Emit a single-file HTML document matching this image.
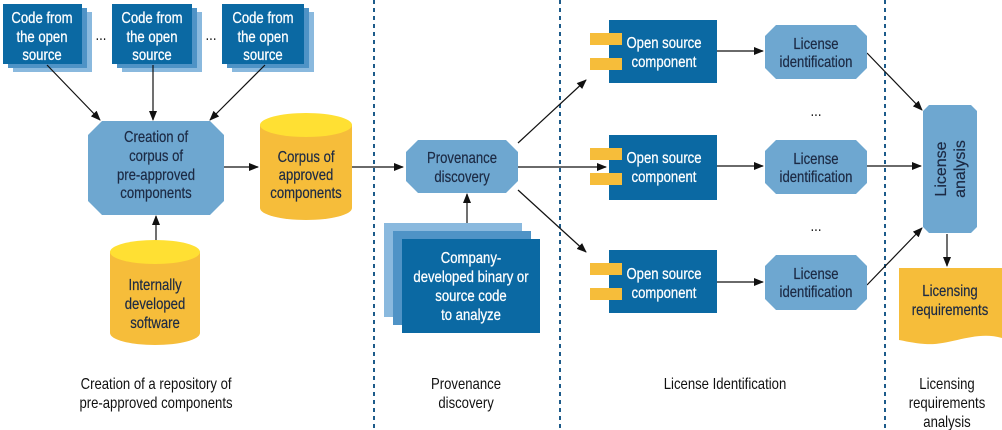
<!DOCTYPE html>
<html><head><meta charset="utf-8"><style>
body{margin:0;background:#fff;}
svg{display:block;font-family:"Liberation Sans",sans-serif;}
text{transform-box:fill-box;transform-origin:center;transform:scaleX(0.82);}
.w{fill:#fff;font-size:16px;stroke:#fff;stroke-width:0.25px;}
.d{fill:#1c2a44;font-size:16px;stroke:#1c2a44;stroke-width:0.2px;}
.b{fill:#111;font-size:16px;}
.c{text-anchor:middle;}
.r{transform:none;}
</style></head><body>
<svg width="1002" height="430" viewBox="0 0 1002 430">
<defs><marker id="a" markerWidth="10" markerHeight="8" refX="9" refY="4" orient="auto" markerUnits="userSpaceOnUse"><path d="M0,0L10,4L0,8z" fill="#111"/></marker></defs>
<g stroke="#1d5b8a" stroke-width="2" stroke-dasharray="4,4">
<line x1="374" y1="0" x2="374" y2="430"/><line x1="560" y1="0" x2="560" y2="430"/><line x1="885" y1="0" x2="885" y2="430"/></g>
<g>
<rect x="13" y="12" width="79" height="60" fill="#8ab9de"/><rect x="8" y="8" width="79" height="60" fill="#4f93c6"/><rect x="3" y="4" width="79" height="60" fill="#0b69a3"/>
<rect x="122" y="12" width="80" height="60" fill="#8ab9de"/><rect x="117" y="8" width="80" height="60" fill="#4f93c6"/><rect x="112" y="4" width="80" height="60" fill="#0b69a3"/>
<rect x="232" y="12" width="82" height="60" fill="#8ab9de"/><rect x="227" y="8" width="82" height="60" fill="#4f93c6"/><rect x="222" y="4" width="82" height="60" fill="#0b69a3"/>
</g>
<text x="42" y="23" class="w c">Code from</text><text x="42" y="42" class="w c">the open</text><text x="42" y="60" class="w c">source</text>
<text x="152" y="23" class="w c">Code from</text><text x="152" y="42" class="w c">the open</text><text x="152" y="60" class="w c">source</text>
<text x="263" y="23" class="w c">Code from</text><text x="263" y="42" class="w c">the open</text><text x="263" y="60" class="w c">source</text>
<text x="101" y="40" class="b c">...</text><text x="211" y="40" class="b c">...</text>
<g stroke="#111" stroke-width="1.2" fill="none" marker-end="url(#a)">
<line x1="47" y1="65" x2="100" y2="120"/><line x1="153" y1="65" x2="153" y2="120"/><line x1="265" y1="65" x2="210" y2="120"/>
<line x1="156" y1="242" x2="156" y2="216"/><line x1="224" y1="167" x2="258" y2="167"/><line x1="352" y1="167" x2="403" y2="167"/>
<line x1="467" y1="239" x2="467" y2="194"/>
<line x1="518" y1="143" x2="586" y2="80"/><line x1="518" y1="167" x2="606" y2="167"/><line x1="518" y1="190" x2="586" y2="252"/>
<line x1="717" y1="51" x2="763" y2="51"/><line x1="717" y1="166" x2="763" y2="166"/><line x1="717" y1="282" x2="763" y2="282"/>
<line x1="867" y1="53" x2="922" y2="110"/><line x1="867" y1="166" x2="921" y2="166"/><line x1="867" y1="285" x2="922" y2="228"/>
<line x1="947" y1="234" x2="947" y2="266"/>
</g>
<path d="M102,121H210L224,135V201L210,215H102L88,201V135Z" fill="#6ea7d0"/>
<text x="156" y="142" class="d c">Creation of</text><text x="156" y="161" class="d c">corpus of</text><text x="156" y="180" class="d c">pre-approved</text><text x="156" y="198" class="d c">components</text>
<path d="M260,125V208A46,12 0 0 0 352,208V125Z" fill="#f6bd3a"/><ellipse cx="306" cy="125" rx="46" ry="12" fill="#ffe033"/>
<text x="306" y="162" class="d c">Corpus of</text><text x="306" y="180" class="d c">approved</text><text x="306" y="198" class="d c">components</text>
<path d="M110,252V333A45,12 0 0 0 200,333V252Z" fill="#f6bd3a"/><ellipse cx="155" cy="252" rx="45" ry="12" fill="#ffe033"/>
<text x="155" y="290" class="d c">Internally</text><text x="155" y="309" class="d c">developed</text><text x="155" y="328" class="d c">software</text>
<path d="M418,140H506L518,152V181L506,193H418L406,181V152Z" fill="#6ea7d0"/>
<text x="462" y="163" class="d c">Provenance</text><text x="462" y="182" class="d c">discovery</text>
<rect x="384" y="223" width="138" height="94" fill="#8ab9de"/><rect x="393" y="231" width="138" height="94" fill="#4f93c6"/><rect x="402" y="239" width="138" height="94" fill="#0b69a3"/>
<text x="471" y="263" class="w c">Company-</text><text x="471" y="282" class="w c">developed binary or</text><text x="471" y="301" class="w c">source code</text><text x="471" y="320" class="w c">to analyze</text>
<rect x="609" y="20" width="108" height="63" fill="#0b69a3"/><rect x="590" y="33" width="32" height="12" fill="#f6bd3a"/><rect x="590" y="58" width="32" height="12" fill="#f6bd3a"/>
<text x="664" y="48" class="w c">Open source</text><text x="664" y="67" class="w c">component</text>
<rect x="609" y="135" width="108" height="65" fill="#0b69a3"/><rect x="590" y="148" width="32" height="12" fill="#f6bd3a"/><rect x="590" y="173" width="32" height="12" fill="#f6bd3a"/>
<text x="664" y="163" class="w c">Open source</text><text x="664" y="182" class="w c">component</text>
<rect x="609" y="250" width="108" height="63" fill="#0b69a3"/><rect x="590" y="263" width="32" height="12" fill="#f6bd3a"/><rect x="590" y="288" width="32" height="12" fill="#f6bd3a"/>
<text x="664" y="279" class="w c">Open source</text><text x="664" y="298" class="w c">component</text>
<path d="M776,25H856L867,36V68L856,79H776L765,68V36Z" fill="#6ea7d0"/>
<text x="816" y="49" class="d c">License</text><text x="816" y="67" class="d c">identification</text>
<path d="M776,140H856L867,151V183L856,194H776L765,183V151Z" fill="#6ea7d0"/>
<text x="816" y="164" class="d c">License</text><text x="816" y="182" class="d c">identification</text>
<path d="M776,255H856L867,266V299L856,310H776L765,299V266Z" fill="#6ea7d0"/>
<text x="816" y="279" class="d c">License</text><text x="816" y="297" class="d c">identification</text>
<text x="816" y="116" class="b c">...</text><text x="816" y="231" class="b c">...</text>
<path d="M929,105H971L977,111V227L971,233H929L923,227V111Z" fill="#6ea7d0"/>
<g transform="translate(950,169) rotate(-90)"><text x="0" y="-4" class="d c r">License</text><text x="0" y="15" class="d c r">analysis</text></g>
<path d="M899,268H1002V338C975,330 950,346 925,344C912,343 905,341 899,340Z" fill="#f6bd3a"/>
<text x="950" y="296" class="d c">Licensing</text><text x="950" y="315" class="d c">requirements</text>
<text x="156" y="389" class="b c">Creation of a repository of</text><text x="156" y="408" class="b c">pre-approved components</text>
<text x="466" y="389" class="b c">Provenance</text><text x="466" y="408" class="b c">discovery</text>
<text x="725" y="389" class="b c">License Identification</text>
<text x="947" y="389" class="b c">Licensing</text><text x="947" y="408" class="b c">requirements</text><text x="947" y="427" class="b c">analysis</text>
</svg>
</body></html>
